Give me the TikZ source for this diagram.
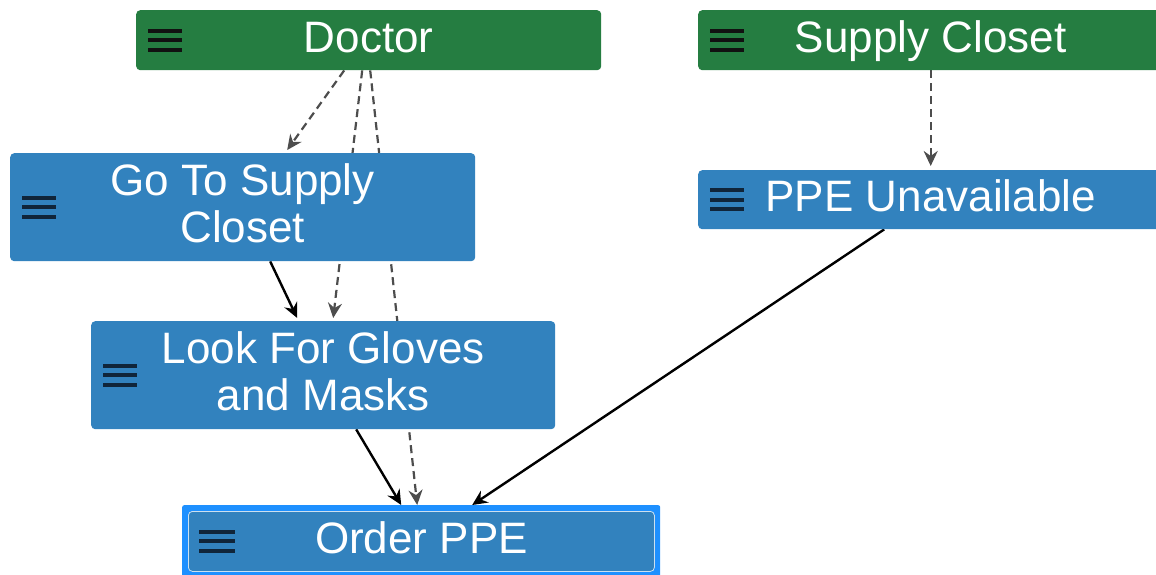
\documentclass[tikz,border=0pt]{standalone}
\usepackage{fontspec}
\setmainfont{Liberation Sans}
\usetikzlibrary{arrows.meta}
\definecolor{nodegreen}{HTML}{257D41}
\definecolor{nodeblue}{HTML}{3282BE}
\definecolor{hlblue}{HTML}{1E90FF}
\definecolor{iconnavy}{HTML}{10253A}
\definecolor{iconblack}{HTML}{111111}
\definecolor{dashgray}{HTML}{4D4D4D}
\pgfdeclarelayer{bg}
\pgfsetlayers{bg,main}
\newcommand{\menuicon}[2]{\foreach \dy in {-9.5,0,9.5}{\draw[#2,line width=4pt] ([xshift=12pt,yshift=\dy pt]#1.west) -- ++(34,0);}}
\begin{document}
\begin{tikzpicture}[x=1pt,y=-1pt,
  box/.style={rounded corners=4pt, text=white, font=\fontsize{44}{47}\selectfont, align=center,
    text height=32pt, text depth=8pt, inner sep=0pt, anchor=north west, minimum width=465pt},
  twoline/.style={text height=79pt},
  greenbox/.style={box, fill=nodegreen},
  bluebox/.style={box, fill=nodeblue},
  dasharrow/.style={draw=dashgray, line width=2.2pt, dash pattern=on 8pt off 5pt,
    -{Stealth[length=15pt,width=14pt,inset=5pt,fill=dashgray]}},
  solidarrow/.style={draw=black, line width=2.4pt,
    -{Stealth[length=15pt,width=14pt,inset=5pt]}}]
\useasboundingbox (0,0) rectangle (1156,575);

\node[greenbox, minimum height=60pt] (doctor) at (136,10) {Doctor};
\node[greenbox, minimum height=60pt] (supply) at (698,10) {Supply Closet};
\node[bluebox, twoline, minimum height=108pt] (goto) at (10,153) {Go To Supply\\Closet};
\node[bluebox, minimum height=59pt] (ppe) at (698,170) {PPE Unavailable};
\node[bluebox, twoline, minimum height=108pt, minimum width=464pt] (look) at (91,321) {Look For Gloves\\and Masks};
\node[fill=hlblue, rounded corners=2pt, anchor=north west, inner sep=0pt,
  minimum width=478pt, minimum height=76pt] (orderhl) at (182,505) {};
\node[bluebox, draw=white!75!nodeblue, line width=0.8pt, minimum height=60pt, minimum width=466pt] (order) at (188,511) {Order PPE};

\menuicon{doctor}{iconblack}
\menuicon{supply}{iconblack}
\menuicon{goto}{iconnavy}
\menuicon{ppe}{iconnavy}
\menuicon{look}{iconnavy}
\foreach \dy in {-9.5,0,9.5}{\draw[iconnavy,line width=4pt] ([xshift=11pt,yshift=\dy pt]order.west) -- ++(36,0);}

\begin{pgfonlayer}{bg}
\draw[dasharrow] ([xshift=-24.5pt]doctor.south) -- ([xshift=44.5pt,yshift=3pt]goto.north);
\draw[dasharrow] ([xshift=-6.5pt]doctor.south) -- ([xshift=10pt,yshift=3pt]look.north);
\draw[dasharrow] ([xshift=1.5pt]doctor.south) -- ([xshift=-4pt]orderhl.north);
\draw[dasharrow] (supply.south) -- ([yshift=4pt]ppe.north);
\draw[solidarrow] ([xshift=27.5pt]goto.south) -- ([xshift=-26pt,yshift=3pt]look.north);
\draw[solidarrow] ([xshift=33pt]look.south) -- ([xshift=-20pt]orderhl.north);
\draw[solidarrow] ([xshift=-46.5pt]ppe.south) -- ([xshift=51pt]orderhl.north);
\end{pgfonlayer}
\end{tikzpicture}
\end{document}
